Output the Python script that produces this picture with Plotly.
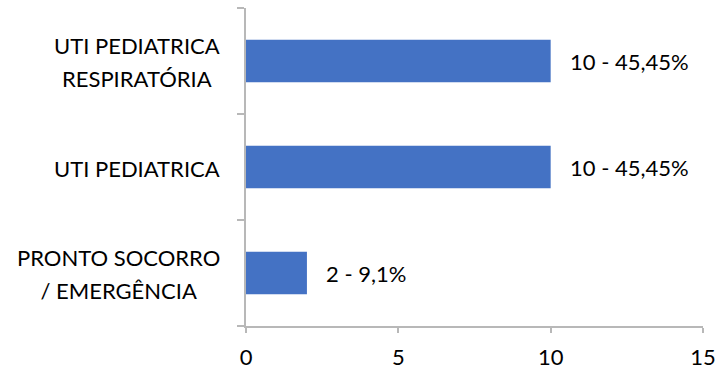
import plotly.graph_objects as go

categories = ["PRONTO SOCORRO<br>/ EMERGÊNCIA", "UTI PEDIATRICA", "UTI PEDIATRICA<br>RESPIRATÓRIA"]
values = [2, 10, 10]
percents = ["9,1%", "45,45%", "45,45%"]
x_ticks = [0, 5, 10, 15]

FONT = "Lato"
FS = 22
LINE_H = 33
AXIS_COLOR = "#b8b8b8"

fig = go.Figure(go.Bar(
    y=categories, x=values, orientation="h",
    marker=dict(color="#4472C4", line=dict(width=0)),
    hoverinfo="skip",
))

for c, v, p in zip(categories, values, percents):
    fig.add_annotation(x=v, y=c, xref="x", yref="y", text=f"{v} - {p}",
                       showarrow=False, xanchor="left", xshift=17,
                       font=dict(family=FONT, size=FS, color="black"))
    lines = c.split("<br>")
    txt = "<br>".join(f"<span style='font-size:{FS}px'>{l}</span>" for l in lines)
    fig.add_annotation(x=0, y=c, xref="paper", yref="y",
                       text=txt, showarrow=False, xanchor="right",
                       align="center", yshift=-1, xshift=-24,
                       font=dict(family=FONT, size=LINE_H / 1.3, color="black"))

fig.update_layout(
    width=717, height=371,
    margin=dict(l=246, r=14, t=8, b=45),
    paper_bgcolor="white", plot_bgcolor="white",
    bargap=0.6, showlegend=False,
    font=dict(family=FONT, size=FS, color="black"),
)
fig.update_xaxes(range=[0, 15], tickvals=x_ticks, showgrid=False, zeroline=False,
                 showline=True, linecolor=AXIS_COLOR, linewidth=1.5,
                 ticks="outside", ticklen=5, tickcolor=AXIS_COLOR, tickwidth=1.5,
                 ticklabelstandoff=6, automargin=False,
                 tickfont=dict(family=FONT, size=FS, color="black"))
fig.update_yaxes(categoryorder="array", categoryarray=categories,
                 showgrid=False, zeroline=False, showline=True, automargin=False,
                 linecolor=AXIS_COLOR, linewidth=1.5, ticks="outside", ticklen=7,
                 tickcolor=AXIS_COLOR, tickwidth=1.5, tickson="boundaries",
                 showticklabels=False)

fig.write_html("out.html")
